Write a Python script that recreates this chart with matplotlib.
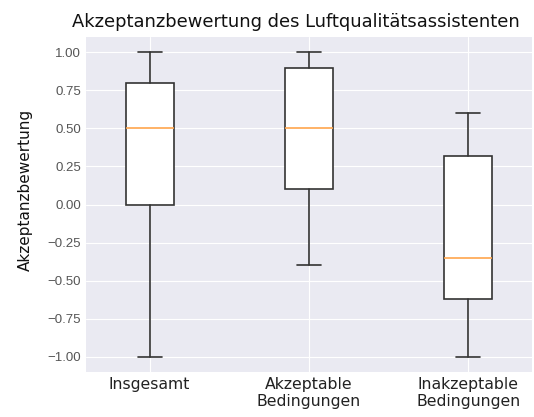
import matplotlib
matplotlib.use("Agg")
import matplotlib.pyplot as plt

# box statistics
labels = ["Insgesamt", "Akzeptable\nBedingungen", "Inakzeptable\nBedingungen"]
whislo = [-1.0, -0.4, -1.0]
q1 = [0.0, 0.1, -0.62]
med = [0.5, 0.5, -0.35]
q3 = [0.8, 0.9, 0.32]
whishi = [1.0, 1.0, 0.6]

plt.style.use("seaborn-v0_8-darkgrid")

stats = []
for i in range(len(labels)):
    stats.append({"label": labels[i], "whislo": whislo[i], "q1": q1[i],
                  "med": med[i], "q3": q3[i], "whishi": whishi[i], "fliers": []})

fig = plt.figure(figsize=(5.34, 4.17), dpi=100)
ax = fig.add_axes([0.161, 0.108, 0.835, 0.803])

ax.bxp(stats, widths=0.3, patch_artist=True, showfliers=False,
       boxprops=dict(facecolor="white", edgecolor="#333333", linewidth=1.2),
       whiskerprops=dict(color="#333333", linewidth=1.2),
       capprops=dict(color="#333333", linewidth=1.2),
       medianprops=dict(color="#ffa64d", linewidth=1.2))

ax.set_xlim(0.6, 3.4)
ax.set_ylim(-1.1, 1.1)
ax.set_yticks([-1.0, -0.75, -0.5, -0.25, 0.0, 0.25, 0.5, 0.75, 1.0])
ax.set_yticklabels([f"{v:.2f}".replace("-", "\u2212") for v in ax.get_yticks()],
                   fontsize=9.5, color="#555555", family="Liberation Sans")
for t in ax.get_xticklabels():
    t.set_family("DejaVu Sans")
    t.set_fontsize(11.3)
    t.set_color("#222222")
ax.set_ylabel("Akzeptanzbewertung", fontsize=11, color="#111111", family="DejaVu Sans")
ax.yaxis.set_label_coords(-0.12, 0.545)
ax.set_title("Akzeptanzbewertung des Luftqualitätsassistenten", fontsize=12.9,
             color="#111111", family="DejaVu Sans", pad=7, x=0.47)

fig.savefig("out.png", dpi=100)
